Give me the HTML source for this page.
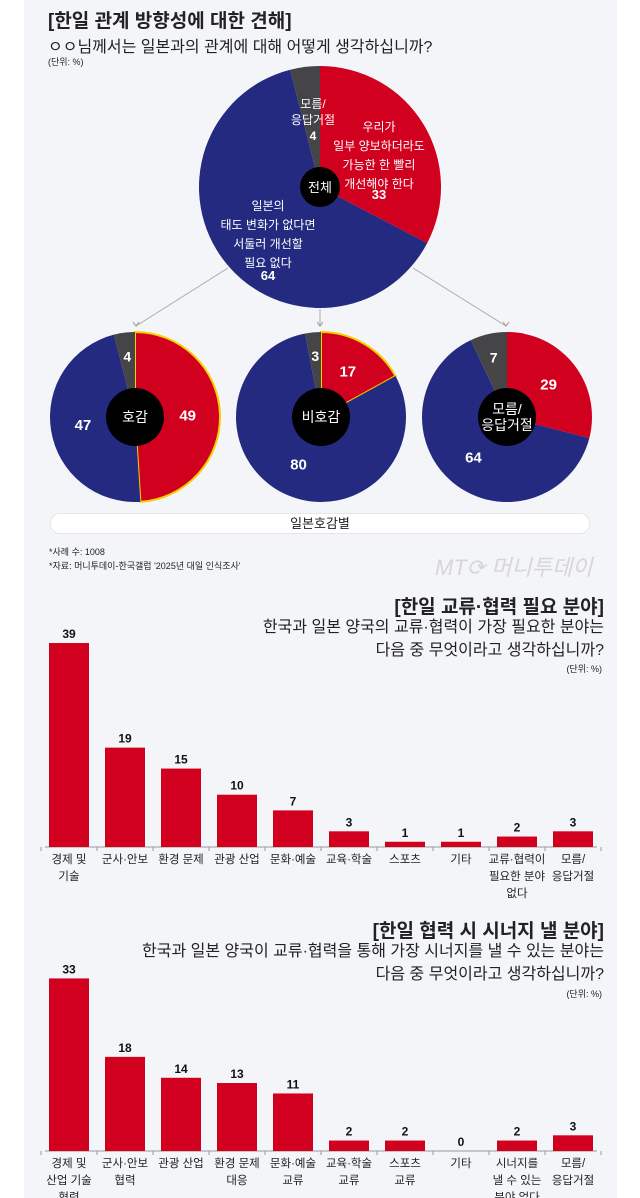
<!DOCTYPE html>
<html><head><meta charset="utf-8">
<style>
body{margin:0;background:#fff;width:640px;height:1198px;overflow:hidden;font-family:"Liberation Sans","Noto Sans CJK KR",sans-serif;}
#panel{position:absolute;left:24px;top:0;width:593px;height:1198px;background:#f4f5f9;}
.t{position:absolute;white-space:nowrap;color:#222;}
svg{position:absolute;left:0;top:0}
</style></head><body>
<div id="panel"></div>
<div class="t" style="left:48px;top:6px;font-size:19px;font-weight:bold;">[한일 관계 방향성에 대한 견해]</div>
<div class="t" style="left:48px;top:33px;font-size:16px;">ㅇㅇ님께서는 일본과의 관계에 대해 어떻게 생각하십니까?</div>
<div class="t" style="left:48px;top:55px;font-size:9px;">(단위: %)</div>
<div class="t" style="left:50px;top:513px;width:538px;height:19px;border-radius:10px;background:#fff;border:1px solid #e6e6ea;text-align:center;font-size:13px;line-height:19px;">일본호감별</div>
<div class="t" style="left:49px;top:545px;font-size:9px;">*사례 수: 1008</div>
<div class="t" style="left:49px;top:559px;font-size:9px;">*자료: 머니투데이-한국갤럽 '2025년 대일 인식조사'</div>
<div class="t" style="left:435px;top:550px;font-size:22px;color:#d6d6da;font-style:italic;">MT⟳ 머니투데이</div>

<div class="t" style="right:36px;top:592px;font-size:19px;font-weight:bold;">[한일 교류·협력 필요 분야]</div>
<div class="t" style="right:36px;top:616px;font-size:16px;text-align:right;line-height:23px;">한국과 일본 양국의 교류·협력이 가장 필요한 분야는<br>다음 중 무엇이라고 생각하십니까?</div>
<div class="t" style="right:38px;top:662px;font-size:9px;">(단위: %)</div>
<div class="t" style="right:36px;top:916px;font-size:19px;font-weight:bold;">[한일 협력 시 시너지 낼 분야]</div>
<div class="t" style="right:36px;top:940px;font-size:16px;text-align:right;line-height:23px;">한국과 일본 양국이 교류·협력을 통해 가장 시너지를 낼 수 있는 분야는<br>다음 중 무엇이라고 생각하십니까?</div>
<div class="t" style="right:38px;top:987px;font-size:9px;">(단위: %)</div>

<svg id="svg" width="640" height="1198" xmlns="http://www.w3.org/2000/svg" font-family="Liberation Sans, Noto Sans CJK KR, sans-serif"></svg>
<script>
// Pie data: [agree(red), disagree(blue), unknown(gray)]
const pieGroups = ["전체", "호감", "비호감", "모름/응답거절"];
const pieRed = [33, 49, 17, 29];
const pieBlue = [64, 47, 80, 64];
const pieGray = [4, 4, 3, 7];
// Bar chart 1
const cats1 = ["경제 및|기술","군사·안보","환경 문제","관광 산업","문화·예술","교육·학술","스포츠","기타","교류·협력이|필요한 분야|없다","모름/|응답거절"];
const vals1 = [39,19,15,10,7,3,1,1,2,3];
// Bar chart 2
const cats2 = ["경제 및|산업 기술|협력","군사·안보|협력","관광 산업","환경 문제|대응","문화·예술|교류","교육·학술|교류","스포츠|교류","기타","시너지를|낼 수 있는|분야 없다","모름/|응답거절"];
const vals2 = [33,18,14,13,11,2,2,0,2,3];

const svg = document.getElementById('svg');
const NS = "http://www.w3.org/2000/svg";
function mk(tag, attrs, parent){const e=document.createElementNS(NS,tag);for(const k in attrs)e.setAttribute(k,attrs[k]);(parent||svg).appendChild(e);return e;}
const RED="#d2001f", BLUE="#232a80", GRAY="#454548";

// connector lines
[[228,268,136,326],[320,309,320,326],[413,268,506,326]].forEach((l,i)=>{
  const ln=mk('line',{x1:l[0],y1:l[1],x2:l[2],y2:l[3],stroke:'#aaa','stroke-width':1});
  
  
  const a=mk('path',{d:`M${l[2]-3},${l[3]-4} L${l[2]},${l[3]} L${l[2]+3},${l[3]-4}`,fill:'none',stroke:'#999','stroke-width':1});
  
  
});

function pt(cx,cy,r,frac){const a=frac*2*Math.PI-Math.PI/2;return [cx+r*Math.cos(a),cy+r*Math.sin(a)];}
function slice(cx,cy,r,f0,f1,color){
  const p0=pt(cx,cy,r,f0),p1=pt(cx,cy,r,f1);const large=(f1-f0)>0.5?1:0;
  return mk('path',{d:`M${cx},${cy} L${p0[0]},${p0[1]} A${r},${r} 0 ${large} 1 ${p1[0]},${p1[1]} Z`,fill:color});
}
const pieGeo=[[320,187,121,20],[135,417,85,29],[321,417,85,29],[507,417,85,29]];
for(let i=0;i<4;i++){
  const [cx,cy,r,hr]=pieGeo[i];
  const tot=pieRed[i]+pieBlue[i]+pieGray[i];
  const fr=pieRed[i]/tot, fb=pieBlue[i]/tot;
  const s1=slice(cx,cy,r,0,fr,RED);
  
  
  if(i===1||i===2){s1.setAttribute('stroke','#f5d000');s1.setAttribute('stroke-width','2');}
  const s2=slice(cx,cy,r,fr,fr+fb,BLUE);
  
  
  const s3=slice(cx,cy,r,fr+fb,1,GRAY);
  
  
  const h=mk('circle',{cx:cx,cy:cy,r:hr,fill:'#000'});
  
  
  const lines=i===3?["모름/","응답거절"]:[pieGroups[i]];
  lines.forEach((s,k)=>{const t=mk('text',{x:cx,y:cy+5+(k-(lines.length-1)/2)*16,'text-anchor':'middle',fill:'#fff','font-size':i===0?13:14});t.textContent=s;
    
    });
  // value labels
  function lab(frac,rad,txt,size){const p=pt(cx,cy,rad,frac);const t=mk('text',{x:p[0],y:p[1]+5,'text-anchor':'middle',fill:'#fff','font-size':size,'font-weight':'bold'});t.textContent=txt;
    
    return t;}
  if(i===0){
    const red=["우리가","일부 양보하더라도","가능한 한 빨리","개선해야 한다"];
    red.forEach((s,k)=>{const t=mk('text',{x:379,y:131+k*19,'text-anchor':'middle',fill:'#fff','font-size':12});t.textContent=s;});
    const tr=mk('text',{x:379,y:199,'text-anchor':'middle',fill:'#fff','font-size':13,'font-weight':'bold'});tr.textContent=pieRed[0];
    
    const blue=["일본의","태도 변화가 없다면","서둘러 개선할","필요 없다"];
    blue.forEach((s,k)=>{const t=mk('text',{x:268,y:210+k*19,'text-anchor':'middle',fill:'#fff','font-size':12});t.textContent=s;});
    const tb=mk('text',{x:268,y:280,'text-anchor':'middle',fill:'#fff','font-size':13,'font-weight':'bold'});tb.textContent=pieBlue[0];
    
    ["모름/","응답거절"].forEach((s,k)=>{const t=mk('text',{x:313,y:108+k*16,'text-anchor':'middle',fill:'#fff','font-size':12});t.textContent=s;});
    const tg=mk('text',{x:313,y:140,'text-anchor':'middle',fill:'#fff','font-size':12,'font-weight':'bold'});tg.textContent=pieGray[0];
    
  } else {
    lab(fr/2,r*0.62,pieRed[i],15);
    lab(fr+fb/2,r*0.62,pieBlue[i],15);
    lab(fr+fb+(1-fr-fb)/2,r*0.72,pieGray[i],14);
  }
}

// bar charts
const SCALE=5.23, X0=69, STEP=56, BW=40;
function xPos(i){return X0+i*STEP;}
function yPos(base,v){return base-v*SCALE;}
function barChart(cats,vals,base,id){
  const ax=mk('line',{x1:45,y1:base,x2:597,y2:base,stroke:'#999','stroke-width':1});
  
  
  for(let i=0;i<=cats.length;i++){const tk=mk('line',{x1:xPos(i)-28,y1:base,x2:xPos(i)-28,y2:base+4,stroke:'#999'});
    }
  cats.forEach((c,i)=>{
    const v=vals[i];
    const b=mk('rect',{x:xPos(i)-BW/2,y:yPos(base,v),width:BW,height:base-yPos(base,v),fill:RED});
    
    
    const t=mk('text',{x:xPos(i),y:yPos(base,v)-5,'text-anchor':'middle','font-size':12,'font-weight':'bold',fill:'#111'});t.textContent=v;
    
    
    c.split('|').forEach((s,k)=>{const l=mk('text',{x:xPos(i),y:base+16+k*17,'text-anchor':'middle','font-size':11.5,fill:'#222'});l.textContent=s;
      
      });
  });
}
barChart(cats1,vals1,847,'chart1');
barChart(cats2,vals2,1151,'chart2');
</script>
</body></html>
